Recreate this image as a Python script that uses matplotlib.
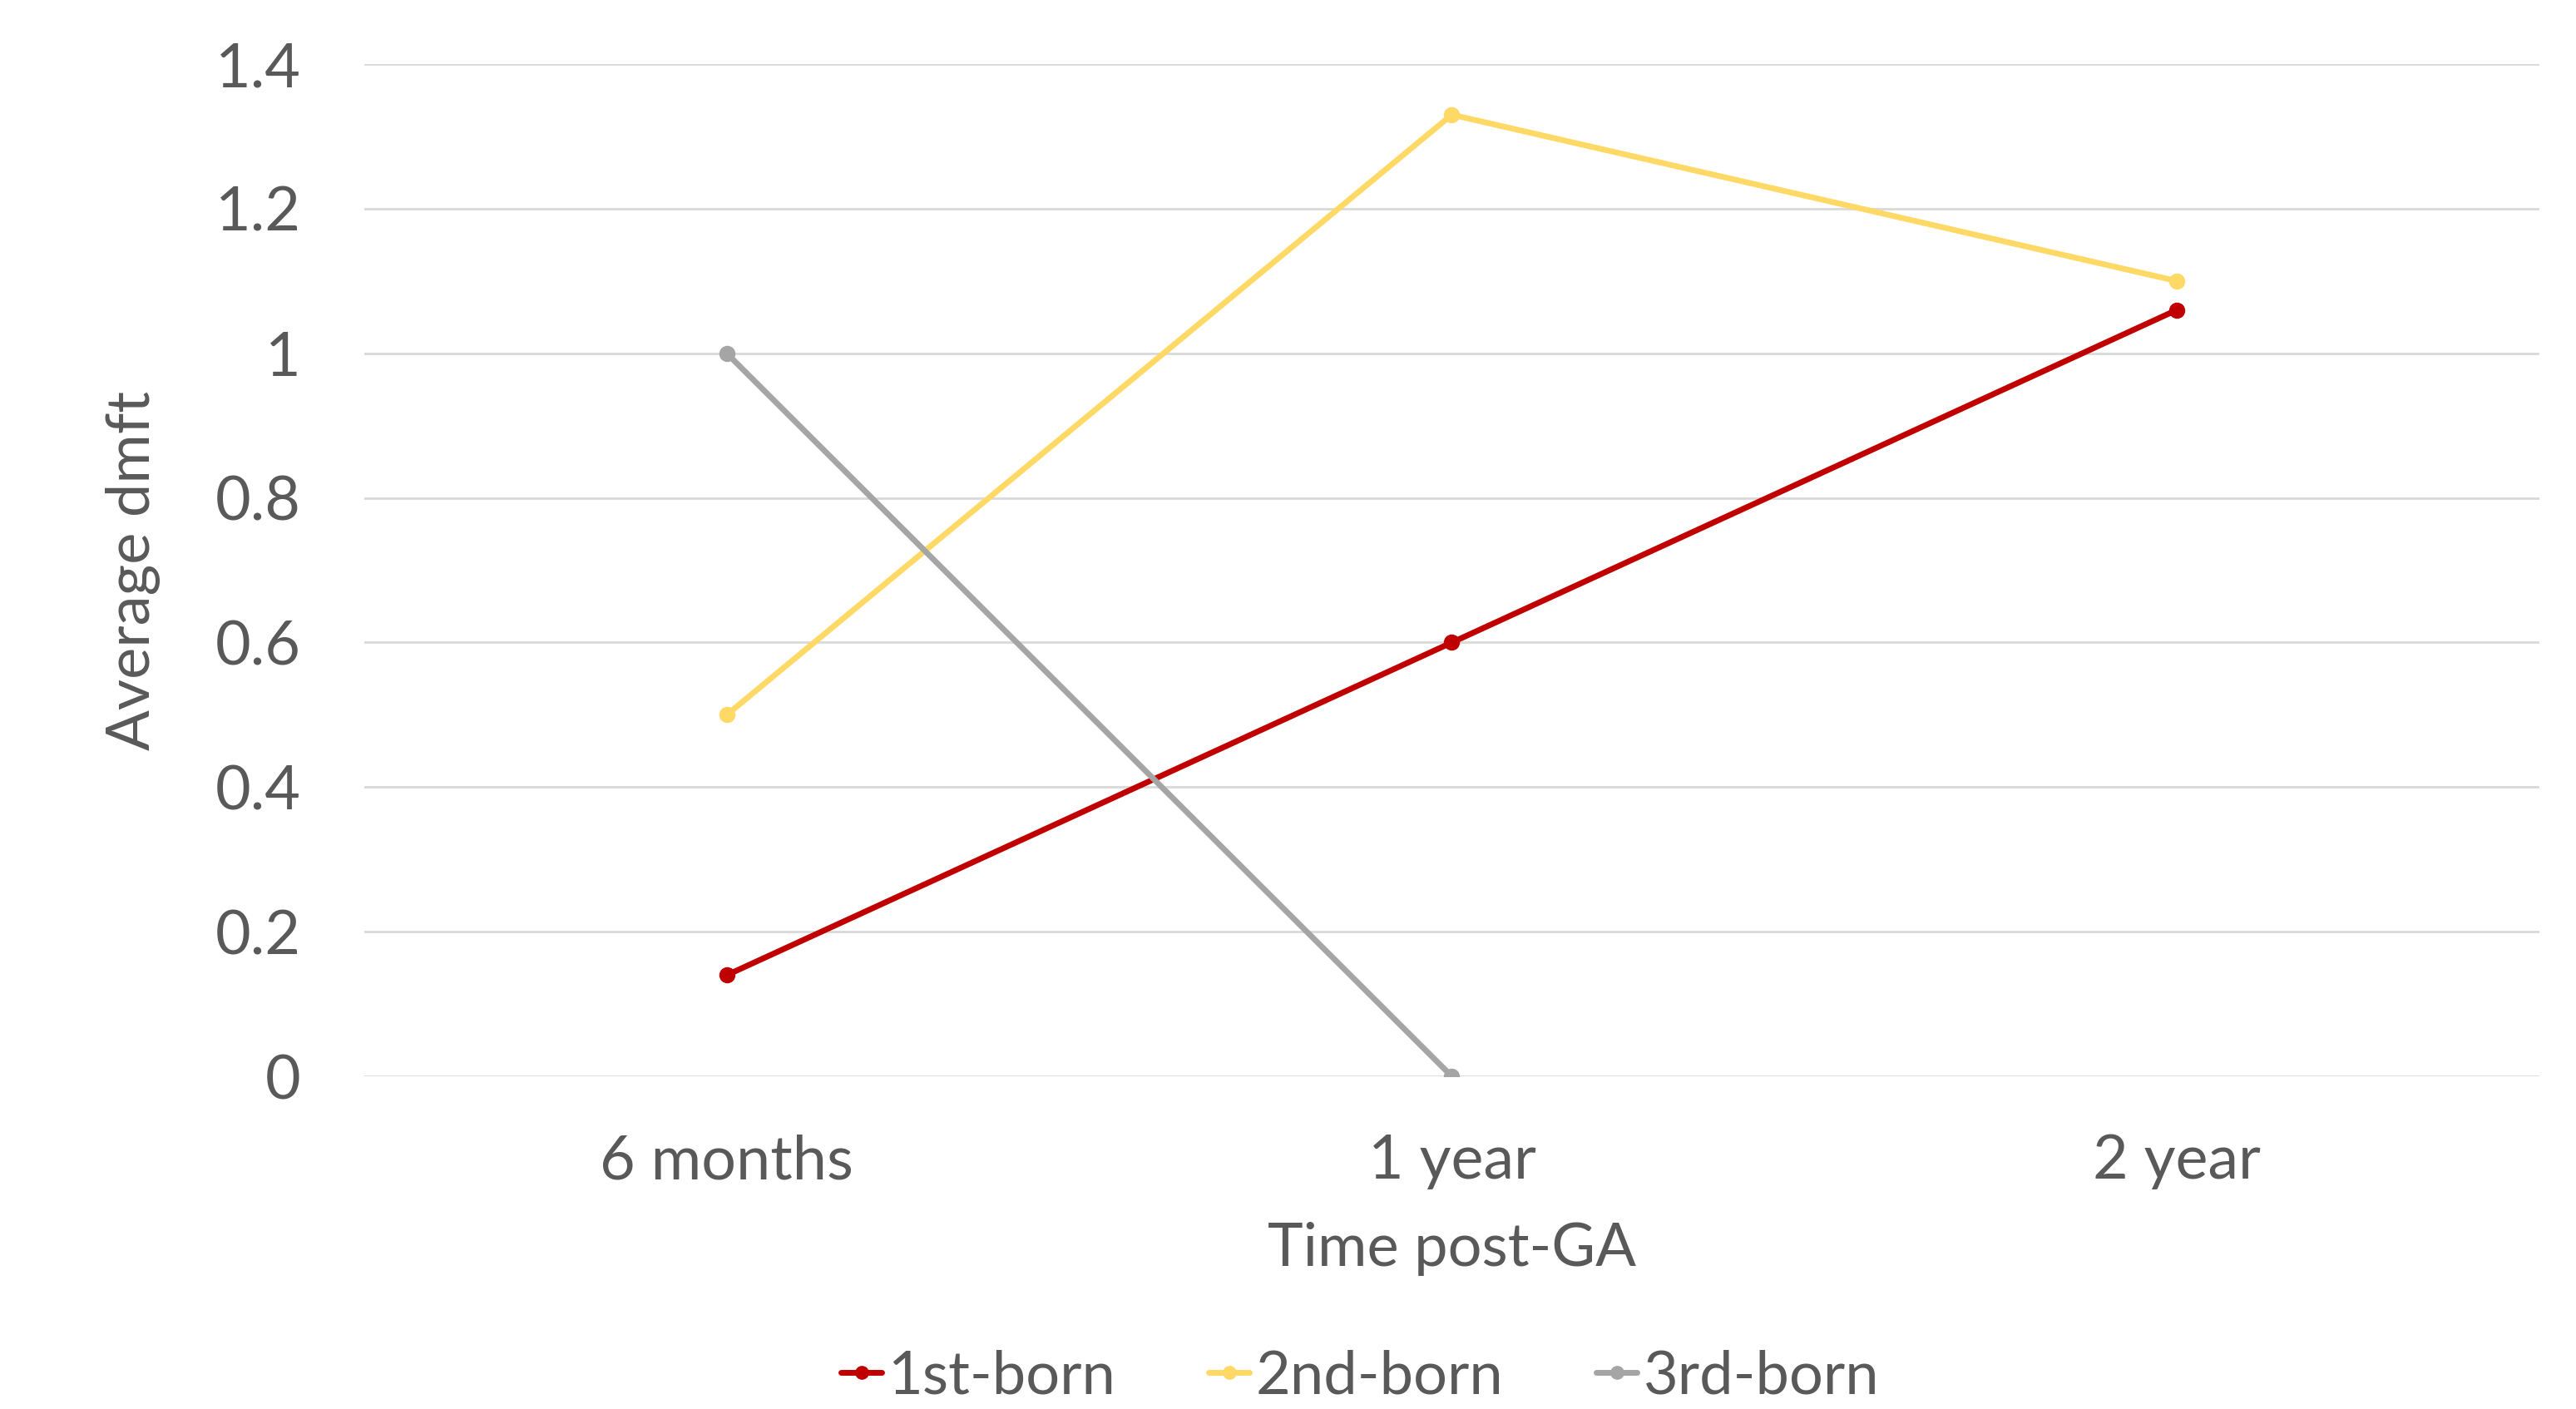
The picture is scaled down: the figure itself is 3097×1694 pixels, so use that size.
import matplotlib
matplotlib.use("Agg")
import matplotlib.pyplot as plt

categories = ["6 months", "1 year", "2 year"]
first_born = [0.14, 0.6, 1.06]
second_born = [0.5, 1.33, 1.1]
third_born = [1.0, 0.0]
series_names = ["1st-born", "2nd-born", "3rd-born"]
y_ticks = [0, 0.2, 0.4, 0.6, 0.8, 1.0, 1.2, 1.4]
y_tick_labels = ["0", "0.2", "0.4", "0.6", "0.8", "1", "1.2", "1.4"]

plt.rcParams['font.family'] = ['Lato', 'DejaVu Sans']
text_color = "#595959"

fig = plt.figure(figsize=(30.97, 16.94), dpi=100)
ax = fig.add_axes([0.1414, 0.2361, 0.8444, 0.7184])

colors = ["#C00000", "#FFD966", "#A5A5A5"]
data = [first_born, second_born, third_born]
for vals, name, c in zip(data, series_names, colors):
    x = list(range(len(vals)))
    ax.plot(x, vals, color=c, linewidth=5, marker='o', markersize=13,
            label=name, solid_capstyle='round', zorder=3)

ax.set_xlim(-0.5, 2.5)
ax.set_ylim(0, 1.4)
ax.set_xticks(range(len(categories)))
ax.set_xticklabels(categories)
ax.set_yticks(y_ticks)
ax.set_yticklabels(y_tick_labels)
ax.grid(axis='y', color="#D9D9D9", linewidth=2)
ax.set_axisbelow(True)
for s in ax.spines.values():
    s.set_visible(False)
ax.tick_params(axis='both', length=0, labelsize=53, colors=text_color)
ax.tick_params(axis='y', pad=55)
ax.tick_params(axis='x', pad=50)

ax.set_xlabel("Time post-GA", fontsize=52, color=text_color, labelpad=28)
ax.set_ylabel("Average dmft", fontsize=52, color=text_color, labelpad=47)

leg = fig.legend(loc='center', bbox_to_anchor=(0.528, 0.023), ncol=3, frameon=False,
                 fontsize=52, handlelength=0.68, handletextpad=0.1, columnspacing=1.55,
                 labelcolor=text_color)
for h in leg.legend_handles:
    h.set_markersize(11)

fig.savefig("out.png", dpi=100)
